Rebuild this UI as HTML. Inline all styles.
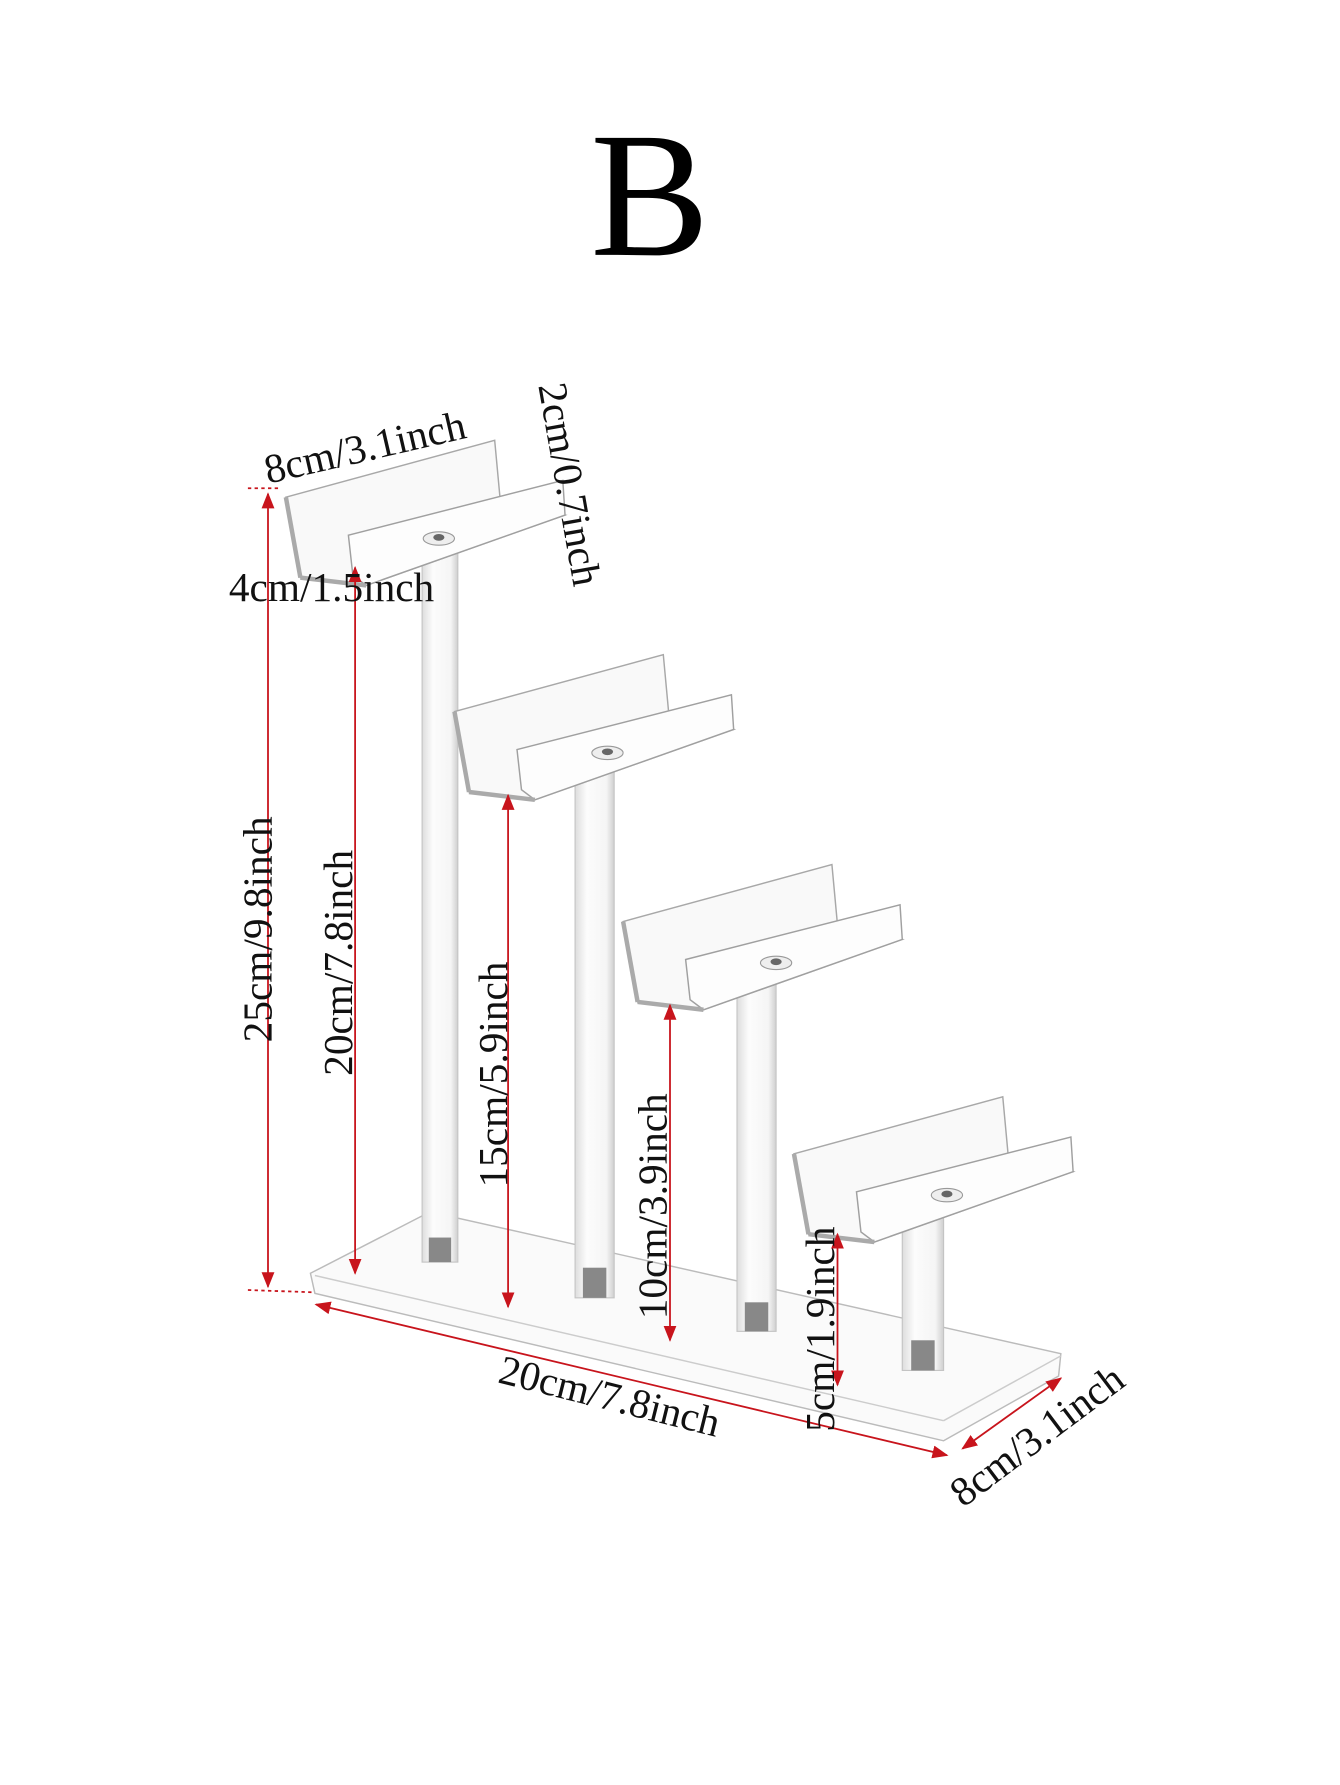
<!DOCTYPE html>
<html><head><meta charset="utf-8"><style>html,body{margin:0;padding:0;background:#fff}svg{display:block}</style></head>
<body>
<svg width="1340" height="1785" viewBox="0 0 1200 1598" xmlns="http://www.w3.org/2000/svg" font-family="'Liberation Serif', serif">
<defs>
<marker id="a" viewBox="0 0 10 10" refX="9" refY="5" markerWidth="9" markerHeight="9" orient="auto-start-reverse"><path d="M0,1 L10,5 L0,9 Z" fill="#c8141c"/></marker>
<linearGradient id="p" x1="0" x2="1"><stop offset="0" stop-color="#ddd"/><stop offset="0.3" stop-color="#fcfcfc"/><stop offset="0.8" stop-color="#f5f5f5"/><stop offset="1" stop-color="#cfcfcf"/></linearGradient>
<g id="tray">
<polygon points="256,445 443,394 448,448 506,461 328,524 269,517" fill="#f9f9f9" stroke="#a8a8a8" stroke-width="1.3"/>
<polygon points="312,479 504,430 506,461 328,524 316,515" fill="#fdfdfd" stroke="#a0a0a0" stroke-width="1.3"/>
<line x1="256" y1="445" x2="269" y2="517" stroke="#aaa" stroke-width="4"/>
<line x1="269" y1="517" x2="328" y2="524" stroke="#aaa" stroke-width="4"/>
<ellipse cx="393" cy="482" rx="14" ry="6" fill="#eee" stroke="#999"/>
<ellipse cx="393" cy="481" rx="5" ry="3" fill="#666"/>
</g>
</defs>
<text x="582" y="228" font-size="160" text-anchor="middle">B</text>
<polygon points="278,1140 385,1085 950,1212 948,1232 845,1290 282,1158" fill="#fafafa" stroke="#bbb" stroke-width="1.3"/>
<line x1="282" y1="1142" x2="845" y2="1272" stroke="#ccc" stroke-width="1.3"/>
<line x1="845" y1="1272" x2="950" y2="1214" stroke="#ccc" stroke-width="1.3"/>
<rect x="378" y="490" width="32" height="640" fill="url(#p)" stroke="#c4c4c4"/>
<rect x="384" y="1108" width="20" height="22" fill="#888"/>
<rect x="515" y="680" width="35" height="482" fill="url(#p)" stroke="#c4c4c4"/>
<rect x="522" y="1135" width="21" height="27" fill="#888"/>
<rect x="660" y="870" width="35" height="322" fill="url(#p)" stroke="#c4c4c4"/>
<rect x="667" y="1166" width="21" height="26" fill="#888"/>
<rect x="808" y="1055" width="37" height="172" fill="url(#p)" stroke="#c4c4c4"/>
<rect x="816" y="1200" width="21" height="27" fill="#888"/>
<use href="#tray"/>
<use href="#tray" transform="translate(151,192)"/>
<use href="#tray" transform="translate(302,380)"/>
<use href="#tray" transform="translate(455,588)"/>
<g stroke="#c8141c" stroke-width="1.6" fill="none">
<line x1="222" y1="437" x2="252" y2="437" stroke-dasharray="3,3"/>
<line x1="222" y1="1155" x2="280" y2="1157" stroke-dasharray="3,3"/>
<line x1="240" y1="442" x2="240" y2="1152" marker-start="url(#a)" marker-end="url(#a)"/>
<line x1="318" y1="508" x2="318" y2="1140" marker-start="url(#a)" marker-end="url(#a)"/>
<line x1="455" y1="712" x2="455" y2="1170" marker-start="url(#a)" marker-end="url(#a)"/>
<line x1="600" y1="900" x2="600" y2="1200" marker-start="url(#a)" marker-end="url(#a)"/>
<line x1="750" y1="1105" x2="750" y2="1240" marker-start="url(#a)" marker-end="url(#a)"/>
<line x1="283" y1="1168" x2="848" y2="1303" marker-start="url(#a)" marker-end="url(#a)"/>
<line x1="862" y1="1297" x2="950" y2="1234" marker-start="url(#a)" marker-end="url(#a)"/>
</g>
<g font-size="37" fill="#111">
<text transform="translate(240,433) rotate(-13)">8cm/3.1inch</text>
<text transform="translate(482,345) rotate(80)">2cm/0.7inch</text>
<text x="205" y="538">4cm/1.5inch</text>
<text text-anchor="middle" transform="translate(243,832) rotate(-90)">25cm/9.8inch</text>
<text text-anchor="middle" transform="translate(315,862) rotate(-90)">20cm/7.8inch</text>
<text text-anchor="middle" transform="translate(454,962) rotate(-90)">15cm/5.9inch</text>
<text text-anchor="middle" transform="translate(597,1080) rotate(-90)">10cm/3.9inch</text>
<text text-anchor="middle" transform="translate(747,1190) rotate(-90)">5cm/1.9inch</text>
<text text-anchor="middle" transform="translate(543,1262) rotate(14)">20cm/7.8inch</text>
<text text-anchor="middle" transform="translate(936,1295) rotate(-37)">8cm/3.1inch</text>
</g>
</svg>
</body></html>
